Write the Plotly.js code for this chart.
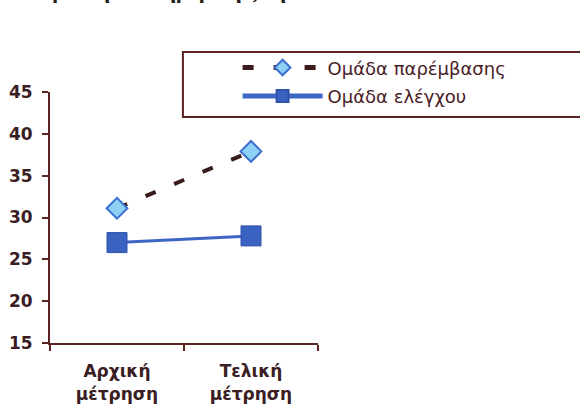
<!DOCTYPE html>
<html>
<head>
<meta charset="utf-8">
<script src="https://cdn.plot.ly/plotly-3.0.1.min.js"></script>
<style>html,body{margin:0;padding:0;background:#fff;}#chart{width:580px;height:406px;}</style>
</head>
<body>
<div id="chart"></div>
<script>
// Data
const categories = ["Αρχική<br>μέτρηση", "Τελική<br>μέτρηση"];
const interventionName = "Ομάδα παρέμβασης";
const interventionValues = [31.1, 37.9];
const controlName = "Ομάδα ελέγχου";
const controlValues = [27.0, 27.8];
const yTicks = [15, 20, 25, 30, 35, 40, 45];
const topText = "και για την καθημερινή ζωή.";

const axisColor = "#5b2222";
const textColor = "#3a1e24";

const traces = [
  {
    x: categories, y: interventionValues, name: interventionName,
    type: "scatter", mode: "lines+markers", legendgroup: "a",
    line: {color: "#3a1c1c", width: 4, dash: "11px,20px"},
    marker: {symbol: "diamond", size: 16, color: "#8fd0f5", line: {color: "#3b6fd0", width: 2}}
  },
  {
    x: categories, y: controlValues, name: controlName,
    type: "scatter", mode: "lines+markers", legendgroup: "b",
    line: {color: "#3d66c4", width: 3},
    marker: {symbol: "square", size: 20, color: "#3a62c0", line: {color: "#2f52a8", width: 1}}
  }
];

const layout = {
  width: 580, height: 406,
  margin: {l: 50, r: 262, t: 92, b: 63, pad: 0},
  paper_bgcolor: "#ffffff", plot_bgcolor: "#ffffff",
  font: {family: "DejaVu Sans, sans-serif", color: textColor},
  showlegend: true,
  legend: {
    x: 0.70, xanchor: "left", y: 1.17, yanchor: "top",
    bgcolor: "rgba(0,0,0,0)", borderwidth: 0,
    font: {family: "DejaVu Sans, sans-serif", size: 18, color: "#4a1c26"},
    tracegroupgap: 2, itemwidth: 80, itemsizing: "constant"
  },
  xaxis: {
    type: "category", range: [-0.5, 1.5],
    showline: true, linecolor: axisColor, linewidth: 2,
    showgrid: false, zeroline: false,
    ticks: "outside", tickson: "boundaries", ticklen: 6, tickwidth: 2, tickcolor: axisColor,
    tickfont: {family: "DejaVu Sans, sans-serif", size: 17, color: textColor, weight: "bold"},
    ticklabelstandoff: 12
  },
  yaxis: {
    range: [15, 45], tickvals: yTicks, ticktext: yTicks.map(String),
    showline: true, linecolor: axisColor, linewidth: 2,
    showgrid: false, zeroline: false,
    ticks: "outside", ticklen: 6, tickwidth: 2, tickcolor: axisColor,
    tickfont: {family: "DejaVu Sans, sans-serif", size: 17, color: textColor, weight: "bold"},
    ticklabelstandoff: 6
  },
  shapes: [
    {type: "rect", xref: "paper", yref: "paper", x0: 0.496, x1: 1.99, y0: 0.900, y1: 1.159,
     line: {color: axisColor, width: 2}, fillcolor: "rgba(0,0,0,0)"}
  ],
  annotations: [
    {text: topText, xref: "paper", yref: "paper", x: -0.15, xanchor: "left", y: 1.347, yanchor: "bottom",
     showarrow: false, font: {family: "Liberation Serif, serif", size: 23, color: "#2a1a1a", weight: "bold"}}
  ]
};

Plotly.newPlot("chart", traces, layout, {displayModeBar: false, staticPlot: true});
</script>
</body>
</html>
